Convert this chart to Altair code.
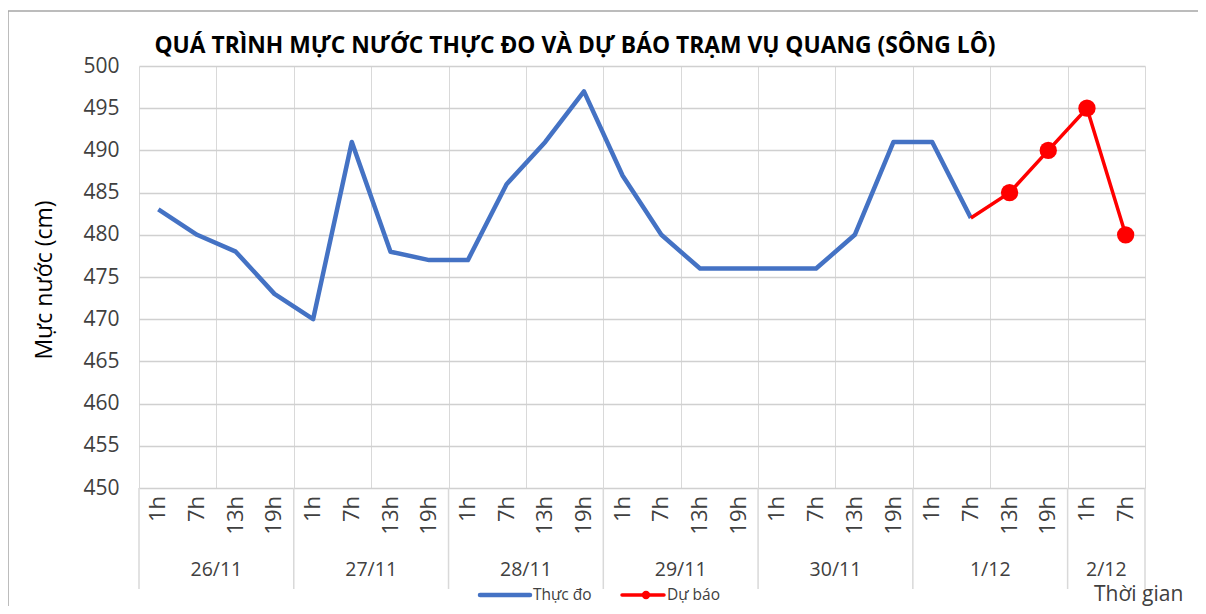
import altair as alt
import pandas as pd

# ---- data ----
dates = ["26/11"] * 4 + ["27/11"] * 4 + ["28/11"] * 4 + ["29/11"] * 4 + ["30/11"] * 4 + ["1/12"] * 4 + ["2/12"] * 2
hours = ["1h", "7h", "13h", "19h"] * 6 + ["1h", "7h"]
observed = [483, 480, 478, 473, 470, 491, 478, 477, 477, 486, 491, 497,
            487, 480, 476, 476, 476, 476, 480, 491, 491, 482]
forecast_idx = [21, 22, 23, 24, 25]
forecast = [482, 485, 490, 495, 480]
forecast_marker = [False, True, True, True, True]
y_ticks = [450, 455, 460, 465, 470, 475, 480, 485, 490, 495, 500]
group_bounds = [-0.5, 3.5, 7.5, 11.5, 15.5, 19.5, 23.5, 25.5]

FONT = "Open Sans"
W, H = 1006, 422
BLUE = "#4472C4"
RED = "#FF0000"
GRID = "#d9d9d9"
TXT = "#404040"

cats = pd.DataFrame({"idx": list(range(len(hours))), "hour": hours, "date": dates})
obs_df = pd.DataFrame({"idx": list(range(len(observed))), "value": observed})
fc_df = pd.DataFrame({"idx": forecast_idx, "value": forecast, "marker": forecast_marker})
bounds_df = pd.DataFrame({"b": group_bounds})
half_vals = [i * 0.5 - 0.5 for i in range(53)]

xscale = alt.Scale(domain=[-0.5, 25.5], nice=False, zero=False)
yscale = alt.Scale(domain=[450, 500], nice=False, zero=False)

xaxis = alt.Axis(values=half_vals, grid=True, gridColor=GRID, gridWidth=1,
                 labels=False, ticks=False, domain=False, title=None)
yaxis = alt.Axis(values=y_ticks, grid=True, gridColor="#d0d0d0", gridWidth=1.3,
                 ticks=False, domain=False, title=None, labelFont=FONT,
                 labelFontSize=21, labelColor=TXT, labelPadding=20)

obs_line = alt.Chart(obs_df).mark_line(color=BLUE, strokeWidth=4.5, strokeJoin="round").encode(
    x=alt.X("idx:Q", scale=xscale, axis=xaxis),
    y=alt.Y("value:Q", scale=yscale, axis=yaxis),
)
fc_line = alt.Chart(fc_df).mark_line(color=RED, strokeWidth=3.5).encode(
    x=alt.X("idx:Q", scale=xscale),
    y=alt.Y("value:Q", scale=yscale),
)
fc_pts = alt.Chart(fc_df).transform_filter("datum.marker").mark_circle(
    color=RED, size=300, opacity=1).encode(
    x=alt.X("idx:Q", scale=xscale),
    y=alt.Y("value:Q", scale=yscale),
)

hour_text = alt.Chart(cats).mark_text(angle=270, align="right", baseline="middle",
                                      font=FONT, fontSize=22, color=TXT).encode(
    x=alt.X("idx:Q", scale=xscale), y=alt.value(430), text="hour:N")

date_text = alt.Chart(cats).transform_aggregate(
    c="mean(idx)", groupby=["date"]).mark_text(
    align="center", baseline="middle", font=FONT, fontSize=19.5, color=TXT).encode(
    x=alt.X("c:Q", scale=xscale), y=alt.value(504), text="date:N")

seps = alt.Chart(bounds_df).mark_rule(color=GRID, strokeWidth=1.5).encode(
    x=alt.X("b:Q", scale=xscale), y=alt.value(422), y2=alt.value(523))

one = alt.Data(values=[{"a": 1}])

title = alt.Chart(one).mark_text(font=FONT, fontSize=22.8, fontWeight="bold", color="#000000",
                                 align="center", baseline="middle").encode(
    x=alt.value(436), y=alt.value(-20),
    text=alt.value("QUÁ TRÌNH MỰC NƯỚC THỰC ĐO VÀ DỰ BÁO TRẠM VỤ QUANG (SÔNG LÔ)"))

ytitle = alt.Chart(one).mark_text(font=FONT, fontSize=23, color="#000000", angle=270,
                                  align="center", baseline="middle").encode(
    x=alt.value(-94), y=alt.value(214), text=alt.value("Mực nước (cm)"))

LY = 529
leg_blue = alt.Chart(one).mark_rule(color=BLUE, strokeWidth=4.5, strokeCap="round").encode(
    x=alt.value(341), x2=alt.value(391), y=alt.value(LY))
leg_blue_t = alt.Chart(one).mark_text(font=FONT, fontSize=15.5, color=TXT, align="left",
                                      baseline="middle").encode(
    x=alt.value(394), y=alt.value(LY), text=alt.value("Thực đo"))
leg_red = alt.Chart(one).mark_rule(color=RED, strokeWidth=3.5, strokeCap="round").encode(
    x=alt.value(483), x2=alt.value(525), y=alt.value(LY))
leg_red_pt = alt.Chart(one).mark_circle(color=RED, size=70, opacity=1).encode(
    x=alt.value(507), y=alt.value(LY))
leg_red_t = alt.Chart(one).mark_text(font=FONT, fontSize=15.5, color=TXT, align="left",
                                     baseline="middle").encode(
    x=alt.value(528), y=alt.value(LY), text=alt.value("Dự báo"))
xtitle = alt.Chart(one).mark_text(font=FONT, fontSize=21, color=TXT, align="left",
                                  baseline="alphabetic").encode(
    x=alt.value(955), y=alt.value(535), text=alt.value("Thời gian"))

frame_top = alt.Chart(one).mark_rule(color="#a6a6a6", strokeWidth=1.5).encode(
    x=alt.value(-131), x2=alt.value(1060), y=alt.value(-55))
frame_left = alt.Chart(one).mark_rule(color="#a6a6a6", strokeWidth=1.5).encode(
    x=alt.value(-131), y=alt.value(-55), y2=alt.value(545))

chart = alt.layer(
    frame_top, frame_left, seps, obs_line, fc_line, fc_pts, hour_text, date_text,
    title, ytitle, leg_blue, leg_blue_t, leg_red, leg_red_pt, leg_red_t, xtitle,
).properties(
    width=W, height=H,
    autosize=alt.AutoSizeParams(type="none"),
    padding={"left": 131, "top": 58, "right": 53, "bottom": 118},
).configure_view(stroke=None)

chart.save("out.html", embed_options={"renderer": "svg", "actions": False})
